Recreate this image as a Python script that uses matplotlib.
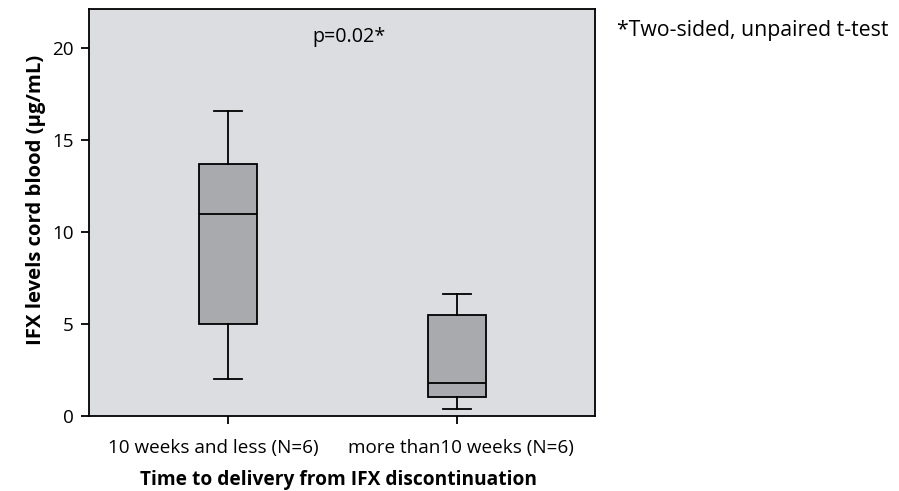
import matplotlib.pyplot as plt
from matplotlib.transforms import ScaledTranslation

# Datos (IFX en sangre de cordón, µg/mL)
grupos = ['10 weeks and less (N=6)', 'more than10 weeks (N=6)']
minimos = [2.0, 0.35]
q1 = [5.0, 1.0]
medianas = [10.95, 1.8]
q3 = [13.7, 5.45]
maximos = [16.55, 6.6]

plt.rcParams['font.family'] = ['Open Sans', 'DejaVu Sans']

fig = plt.figure(figsize=(8.99, 4.91), dpi=100)
ax = fig.add_axes([0.099, 0.153, 0.563, 0.829])
ax.set_facecolor('#dcdde0')

# Estadísticas de cada caja para bxp
stats = []
for i in range(len(grupos)):
    stats.append({'med': medianas[i], 'q1': q1[i], 'q3': q3[i],
                  'whislo': minimos[i], 'whishi': maximos[i],
                  'fliers': [], 'label': grupos[i]})

ax.bxp(stats, positions=[1, 2], widths=0.25, patch_artist=True,
       showfliers=False,
       boxprops=dict(facecolor='#a9aaad', edgecolor='black', linewidth=1.3),
       medianprops=dict(color='black', linewidth=1.3),
       whiskerprops=dict(color='black', linewidth=1.3),
       capprops=dict(color='black', linewidth=1.3), capwidths=0.125)

ax.set_xlim(0.393, 2.603)
ax.set_ylim(0, 22.1)
ax.set_yticks([0, 5, 10, 15, 20])
for s in ax.spines.values():
    s.set_linewidth(1.3)
ax.tick_params(axis='both', direction='out', length=6, width=1.3,
               labelsize=13.6)
ax.tick_params(axis='x', pad=10.5)
ax.tick_params(axis='y', pad=5)

# en el original las etiquetas no están del todo centradas en las marcas
desplaz = [-15, 4]
for lab, dx in zip(ax.get_xticklabels(), desplaz):
    lab.set_transform(lab.get_transform() +
                      ScaledTranslation(dx / 100, 0, fig.dpi_scale_trans))

ax.set_ylabel('IFX levels cord blood (µg/mL)', fontsize=14.6,
              fontweight='bold')
ax.yaxis.set_label_coords(-0.084, 0.53)
ax.set_xlabel('Time to delivery from IFX discontinuation', fontsize=13.8,
              fontweight='bold')
ax.xaxis.set_label_coords(0.492, -0.134)

ax.text(0.513, 0.93, 'p=0.02*', transform=ax.transAxes, ha='center',
        va='center', fontsize=14.2)
fig.text(0.686, 0.938, '*Two-sided, unpaired t-test', ha='left',
         va='center', fontsize=15.3)

fig.savefig('out.png', dpi=100)
